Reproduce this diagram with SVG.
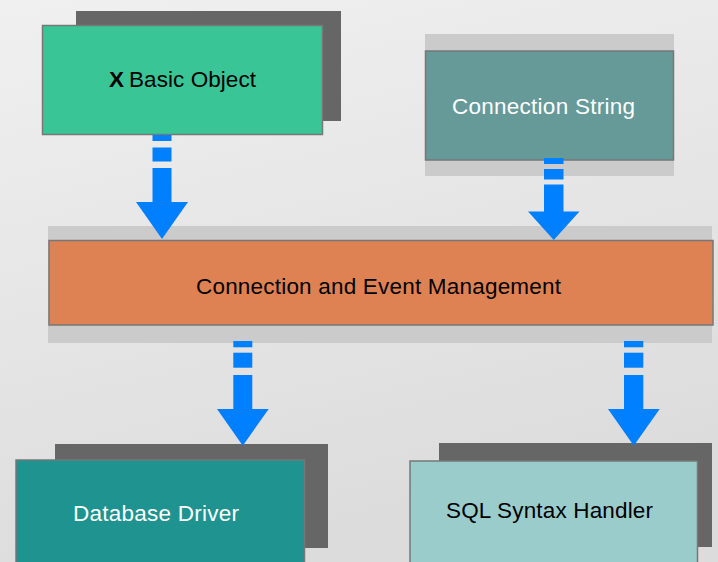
<svg xmlns="http://www.w3.org/2000/svg" width="718" height="562" viewBox="0 0 718 562">
<defs>
<linearGradient id="bg" x1="0" y1="0" x2="0.3" y2="1">
<stop offset="0" stop-color="#f0f0f0"/>
<stop offset="1" stop-color="#dcdcdc"/>
</linearGradient>
</defs>
<style>
.shadow{fill:#666666}
.band{fill:#cbcbcb}
.box{stroke:#777777;stroke-width:1.5}
.lbl{font-family:"Liberation Sans Narrow","Liberation Sans",Arial,sans-serif;font-size:22.5px}
.arrow{fill:#0080ff}
</style>
<rect x="0" y="0" width="718" height="562" fill="url(#bg)"/>

<g id="node-basic-object">
<rect class="shadow" x="76" y="11" width="265" height="110"/>
<rect class="box" x="42.5" y="25.5" width="280" height="109" fill="#3ac597"/>
<text class="lbl" x="109" y="87" fill="#000000"><tspan font-weight="bold">X</tspan><tspan x="129" textLength="127" lengthAdjust="spacing">Basic Object</tspan></text>
</g>

<g id="node-connection-string">
<rect class="band" x="425" y="34" width="249" height="142"/>
<rect class="box" x="425.5" y="51" width="248" height="109" fill="#659a99"/>
<text class="lbl" x="452" y="114" fill="#ffffff" textLength="183" lengthAdjust="spacing">Connection String</text>
</g>

<g id="node-connection-event">
<rect class="band" x="48" y="226" width="664" height="117"/>
<rect class="box" x="49" y="240.5" width="664" height="84.5" fill="#de8254"/>
<text class="lbl" x="196" y="294" fill="#000000" textLength="365" lengthAdjust="spacing">Connection and Event Management</text>
</g>

<g id="node-database-driver">
<rect class="shadow" x="55" y="444" width="273" height="104"/>
<rect class="box" x="16" y="460" width="288.5" height="110" fill="#1e9390"/>
<text class="lbl" x="73" y="521" fill="#ffffff" textLength="166" lengthAdjust="spacing">Database Driver</text>
</g>

<g id="node-sql-syntax">
<rect class="shadow" x="439" y="443" width="273" height="104"/>
<rect class="box" x="410" y="461" width="287.5" height="110" fill="#9acccc"/>
<text class="lbl" x="446" y="518" fill="#000000" textLength="207" lengthAdjust="spacing">SQL Syntax Handler</text>
</g>

<g id="connectors" class="arrow">
<g id="arrow-basic-to-mgmt">
<rect x="152.5" y="135" width="19" height="6"/>
<rect x="152.5" y="147.5" width="19" height="14"/>
<rect x="152.5" y="168" width="19" height="35"/>
<polygon points="136,202 188,202 162,239"/>
</g>
<g id="arrow-string-to-mgmt">
<rect x="544" y="158" width="19.5" height="6"/>
<rect x="544" y="169" width="19.5" height="10.5"/>
<rect x="544" y="184.5" width="19.5" height="28"/>
<polygon points="528,211.5 579.5,211.5 553.75,240"/>
</g>
<g id="arrow-mgmt-to-driver">
<rect x="233.3" y="341" width="19" height="6.3"/>
<rect x="233.3" y="352.7" width="19" height="15"/>
<rect x="233.3" y="375" width="19" height="35"/>
<polygon points="217,409 268.7,409 242.8,445.7"/>
</g>
<g id="arrow-mgmt-to-sql">
<rect x="624" y="341" width="19.3" height="6.3"/>
<rect x="624" y="352.7" width="19.3" height="15"/>
<rect x="624" y="375" width="19.3" height="35"/>
<polygon points="608,409 659.7,409 633.8,445.7"/>
</g>
</g>
</svg>
